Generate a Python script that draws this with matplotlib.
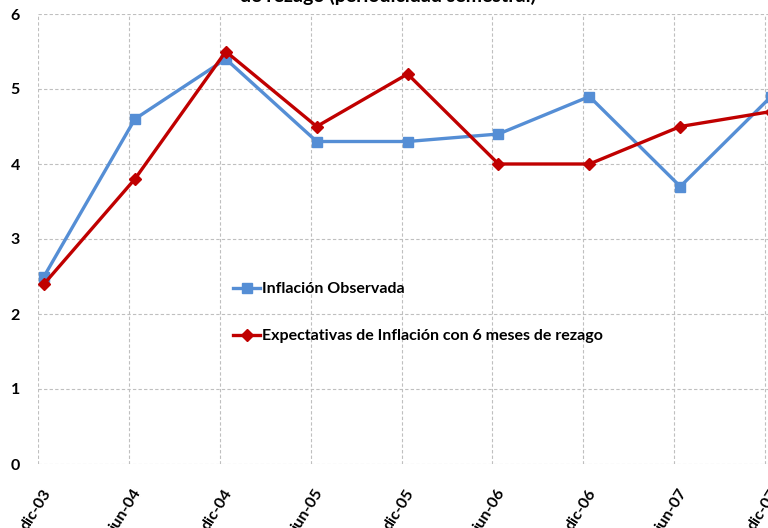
import numpy as np
import matplotlib
matplotlib.use("Agg")
import matplotlib.pyplot as plt

plt.rcParams['font.family'] = ['Lato', 'DejaVu Sans']

periodos = ["dic-03", "jun-04", "dic-04", "jun-05", "dic-05", "jun-06", "dic-06", "jun-07", "dic-07"]
inflacion_obs = [2.5, 4.6, 5.4, 4.3, 4.3, 4.4, 4.9, 3.7, 4.9]
expectativas = [2.4, 3.8, 5.5, 4.5, 5.2, 4.0, 4.0, 4.5, 4.7]

W, H = 768, 528
fig = plt.figure(figsize=(W / 100, H / 100), dpi=100)

# plot area (the chart is cropped on the right, so the axes run past the edge)
unit = 90.9
shift = 6 / unit
left_px, top_px, bottom_px = 38, 14, 464
ax = fig.add_axes([left_px / W, 1 - bottom_px / H, 9 * unit / W, (bottom_px - top_px) / H])

x = np.arange(len(periodos))
ax.plot(x, inflacion_obs, color="#558ED5", lw=2.4, marker="s", ms=7.5,
        label="Inflación Observada", zorder=3, clip_on=False)
ax.plot(x, expectativas, color="#C00000", lw=2.4, marker="D", ms=6,
        label="Expectativas de Inflación con 6 meses de rezago", zorder=4, clip_on=False)

ax.set_xlim(-shift, 9 - shift)
ax.set_ylim(0, 6)
ax.set_yticks(range(0, 7))
ax.set_xticks(x + 0.04)
ax.set_xticklabels(periodos, rotation=58, ha="right", va="center",
                   rotation_mode="anchor", fontweight="bold", fontsize=11.5)
ax.set_xticks(x - shift, minor=True)
ax.tick_params(axis="x", which="major", length=0, pad=19)
ax.tick_params(axis="x", which="minor", length=0)
ax.tick_params(axis="y", length=0, pad=13, labelsize=11.5)
for lab in ax.get_yticklabels():
    lab.set_fontweight("bold")

ax.grid(False)
ax.xaxis.grid(True, which="minor", color="#BFBFBF", ls=(0, (3, 2)), lw=0.8)
ax.yaxis.grid(True, which="major", color="#BFBFBF", ls=(0, (3, 2)), lw=0.8)
for s in ax.spines.values():
    s.set_visible(False)

leg = ax.legend(loc="upper left", bbox_to_anchor=(233 / W, 1 - 282 / H),
                bbox_transform=fig.transFigure, frameon=False,
                prop={"weight": "bold", "size": 11.5}, handlelength=1.7,
                handletextpad=0.1, borderpad=0, borderaxespad=0, labelspacing=2.05)

fig.text(388 / W, 1 - 2 / H, "de rezago (periodicidad semestral)", ha="center",
         va="baseline", fontsize=14, fontweight="bold")

fig.savefig("out.png", dpi=100)
